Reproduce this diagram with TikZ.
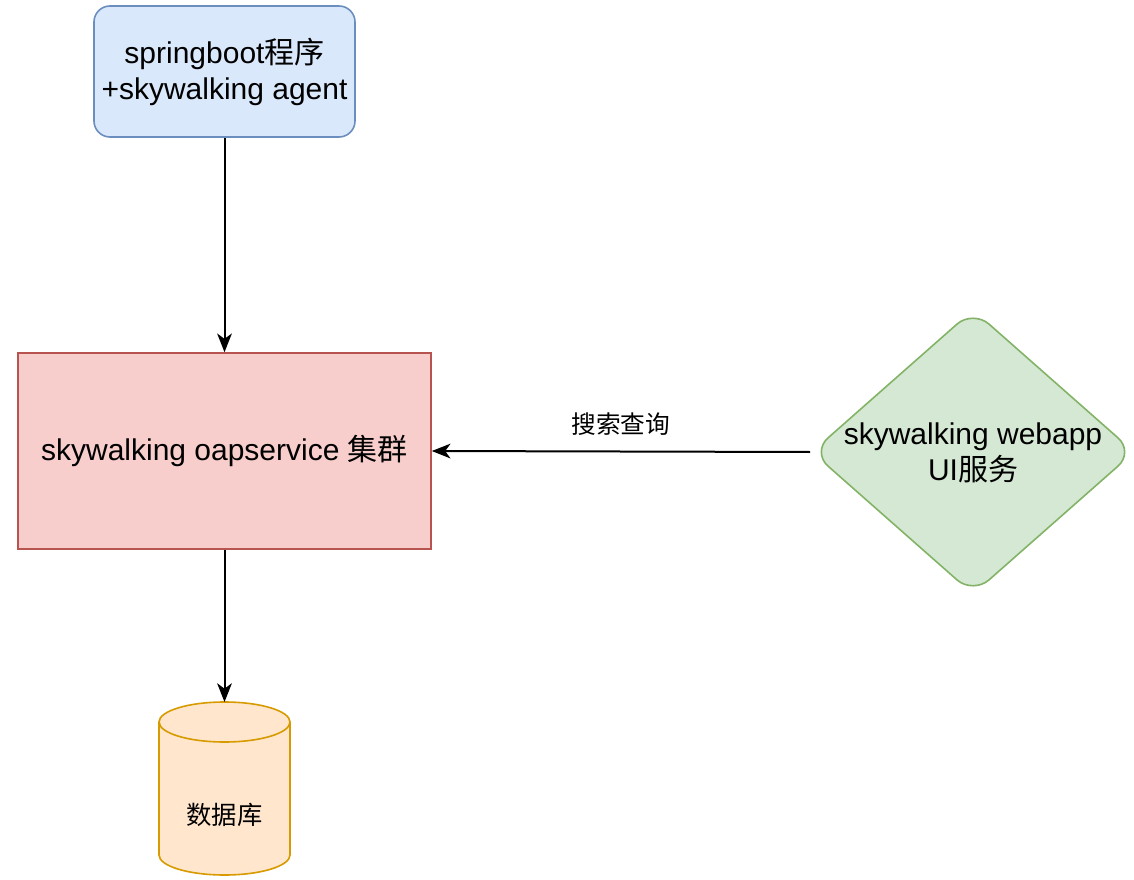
\documentclass[tikz,border=0pt]{standalone}
\usepackage{fontspec}
\setmainfont{Liberation Sans}
\newfontfamily\cjk{Noto Sans CJK SC}
\usetikzlibrary{arrows.meta}
\definecolor{bfill}{HTML}{DAE8FC}\definecolor{bline}{HTML}{6C8EBF}
\definecolor{rfill}{HTML}{F8CECC}\definecolor{rline}{HTML}{B85450}
\definecolor{gfill}{HTML}{D5E8D4}\definecolor{gline}{HTML}{82B366}
\definecolor{ofill}{HTML}{FFE6CC}\definecolor{oline}{HTML}{D79B00}
\begin{document}
\begin{tikzpicture}[x=0.75pt,y=-0.75pt,line width=1.2pt,
  conn/.style={-{Stealth[length=14pt,width=11pt,inset=4pt]},line width=1.5pt},
  lbl/.style={font=\fontsize{22.5}{27}\selectfont,align=center}]
\useasboundingbox (0,0) rectangle (1134,880);
\node[draw=bline,fill=bfill,rounded corners=12pt,minimum width=261*0.75pt,minimum height=131*0.75pt,lbl] (agent) at (224.5,71.5) {springboot{\cjk 程序}\\+skywalking agent};
\node[draw=rline,fill=rfill,minimum width=413*0.75pt,minimum height=196*0.75pt,lbl] (oap) at (224.5,451) {skywalking oapservice {\cjk 集群}};
\draw[gline,fill=gfill,rounded corners=16pt] (812,452) -- (973,310) -- (1134,452) -- (973,594) -- cycle;
\node[lbl] (ui) at (973,453) {skywalking webapp\\UI{\cjk 服务}};
\coordinate (uiw) at (810,452);
% cylinder
\draw[oline,fill=ofill] (159,722) -- (159,855) arc[start angle=180,end angle=0,x radius=65.5,y radius=20] -- (290,722) arc[start angle=0,end angle=-180,x radius=65.5,y radius=20] -- cycle;
\draw[oline] (159,722) arc[start angle=180,end angle=0,x radius=65.5,y radius=20];
\node[font=\fontsize{19}{23}\selectfont\cjk] (db) at (224.5,815) {数据库};
\coordinate (dbtop) at (224.5,702);
\draw[conn] (agent.south) -- (oap.north);
\draw[conn] (oap.south) -- (dbtop);
\draw[conn] (uiw) -- node[above=8pt,font=\fontsize{18.5}{22}\selectfont\cjk]{搜索查询} (oap.east);
\end{tikzpicture}
\end{document}
